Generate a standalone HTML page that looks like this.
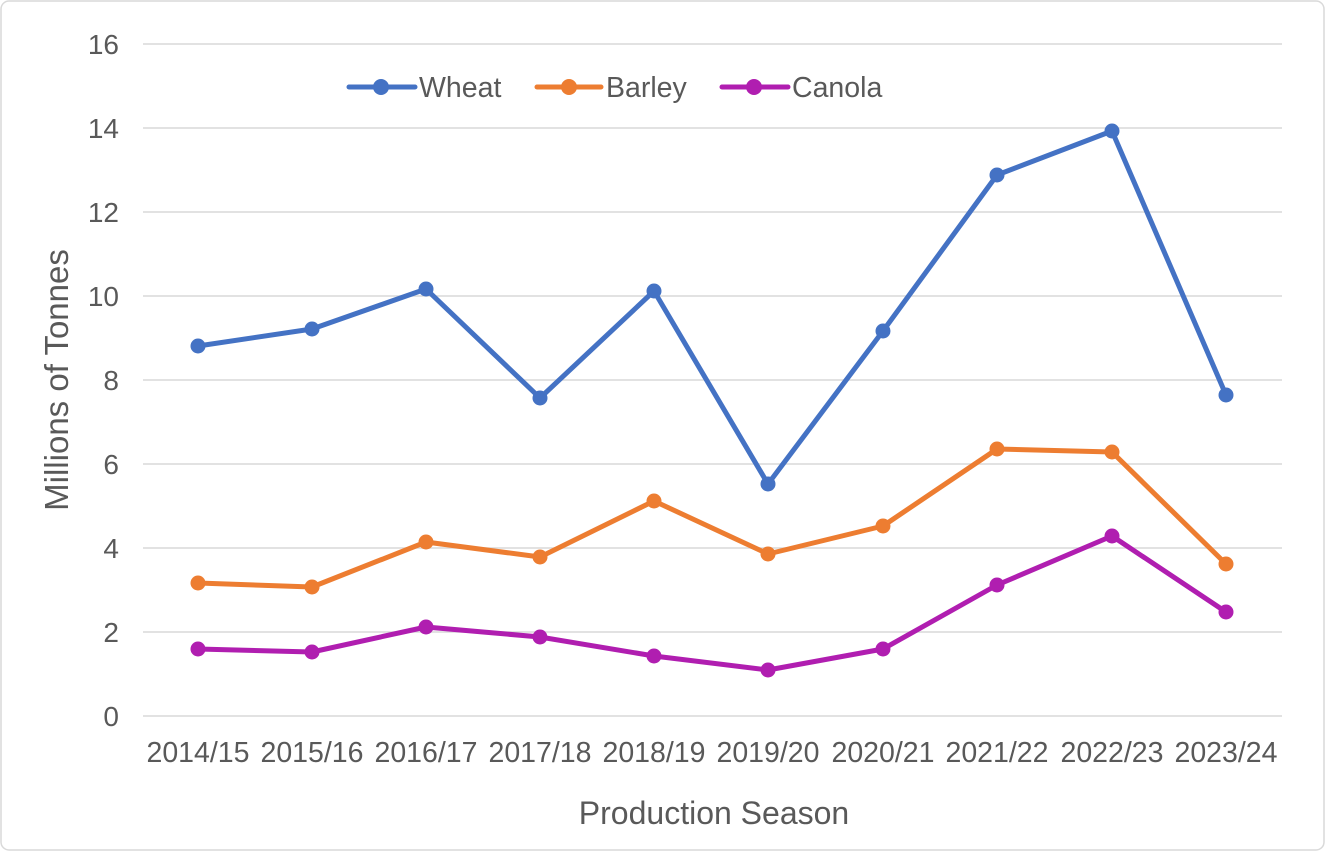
<!DOCTYPE html>
<html><head><style>body{margin:0;background:#fff}</style></head><body>
<svg width="1325" height="851" xmlns="http://www.w3.org/2000/svg" font-family="Liberation Sans, sans-serif" fill="#595959">
<rect x="1" y="1" width="1323" height="849" rx="8" fill="#fff" stroke="#d9d9d9" stroke-width="1.5"/>
<g stroke="#d9d9d9" stroke-width="1.5">
<line x1="143" x2="1282" y1="44" y2="44"/><line x1="143" x2="1282" y1="128" y2="128"/><line x1="143" x2="1282" y1="212" y2="212"/><line x1="143" x2="1282" y1="296" y2="296"/><line x1="143" x2="1282" y1="380" y2="380"/><line x1="143" x2="1282" y1="464" y2="464"/><line x1="143" x2="1282" y1="548" y2="548"/><line x1="143" x2="1282" y1="632" y2="632"/><line x1="143" x2="1282" y1="716" y2="716"/>
</g>
<g font-size="28" text-anchor="end">
<text x="119" y="54">16</text><text x="119" y="138">14</text><text x="119" y="222">12</text><text x="119" y="306">10</text><text x="119" y="390">8</text><text x="119" y="474">6</text><text x="119" y="558">4</text><text x="119" y="642">2</text><text x="119" y="726">0</text>
</g>
<g font-size="28.5" text-anchor="middle">
<text x="198" y="762">2014/15</text><text x="312" y="762">2015/16</text><text x="426" y="762">2016/17</text><text x="540" y="762">2017/18</text><text x="654" y="762">2018/19</text><text x="768" y="762">2019/20</text><text x="883" y="762">2020/21</text><text x="997" y="762">2021/22</text><text x="1112" y="762">2022/23</text><text x="1226" y="762">2023/24</text>
</g>
<text x="714" y="824" font-size="32" text-anchor="middle">Production Season</text>
<text transform="translate(68,380) rotate(-90)" font-size="33" text-anchor="middle">Millions of Tonnes</text>
<g fill="none" stroke-width="5" stroke-linejoin="round">
<polyline stroke="#4472C4" points="198,346 312,329 426,289 540,398 654,291 768,484 883,331 997,175 1112,131 1226,395"/>
<polyline stroke="#ED7D31" points="198,583 312,587 426,542 540,557 654,501 768,554 883,526 997,449 1112,452 1226,564"/>
<polyline stroke="#B01EB0" points="198,649 312,652 426,627 540,637 654,656 768,670 883,649 997,585 1112,536 1226,612"/>
</g>
<g fill="#4472C4"><circle cx="198" cy="346" r="7.5"/><circle cx="312" cy="329" r="7.5"/><circle cx="426" cy="289" r="7.5"/><circle cx="540" cy="398" r="7.5"/><circle cx="654" cy="291" r="7.5"/><circle cx="768" cy="484" r="7.5"/><circle cx="883" cy="331" r="7.5"/><circle cx="997" cy="175" r="7.5"/><circle cx="1112" cy="131" r="7.5"/><circle cx="1226" cy="395" r="7.5"/></g>
<g fill="#ED7D31"><circle cx="198" cy="583" r="7.5"/><circle cx="312" cy="587" r="7.5"/><circle cx="426" cy="542" r="7.5"/><circle cx="540" cy="557" r="7.5"/><circle cx="654" cy="501" r="7.5"/><circle cx="768" cy="554" r="7.5"/><circle cx="883" cy="526" r="7.5"/><circle cx="997" cy="449" r="7.5"/><circle cx="1112" cy="452" r="7.5"/><circle cx="1226" cy="564" r="7.5"/></g>
<g fill="#B01EB0"><circle cx="198" cy="649" r="7.5"/><circle cx="312" cy="652" r="7.5"/><circle cx="426" cy="627" r="7.5"/><circle cx="540" cy="637" r="7.5"/><circle cx="654" cy="656" r="7.5"/><circle cx="768" cy="670" r="7.5"/><circle cx="883" cy="649" r="7.5"/><circle cx="997" cy="585" r="7.5"/><circle cx="1112" cy="536" r="7.5"/><circle cx="1226" cy="612" r="7.5"/></g>
<g stroke-width="5" stroke-linecap="round">
<line x1="349" x2="415" y1="87" y2="87" stroke="#4472C4"/><circle cx="381" cy="87" r="8" fill="#4472C4"/>
<line x1="537" x2="601" y1="87" y2="87" stroke="#ED7D31"/><circle cx="569" cy="87" r="8" fill="#ED7D31"/>
<line x1="722" x2="788" y1="87" y2="87" stroke="#B01EB0"/><circle cx="754" cy="87" r="8" fill="#B01EB0"/>
</g>
<g font-size="28.5"><text x="419" y="97">Wheat</text><text x="606" y="97">Barley</text><text x="792" y="97">Canola</text></g>
</svg>
</body></html>
